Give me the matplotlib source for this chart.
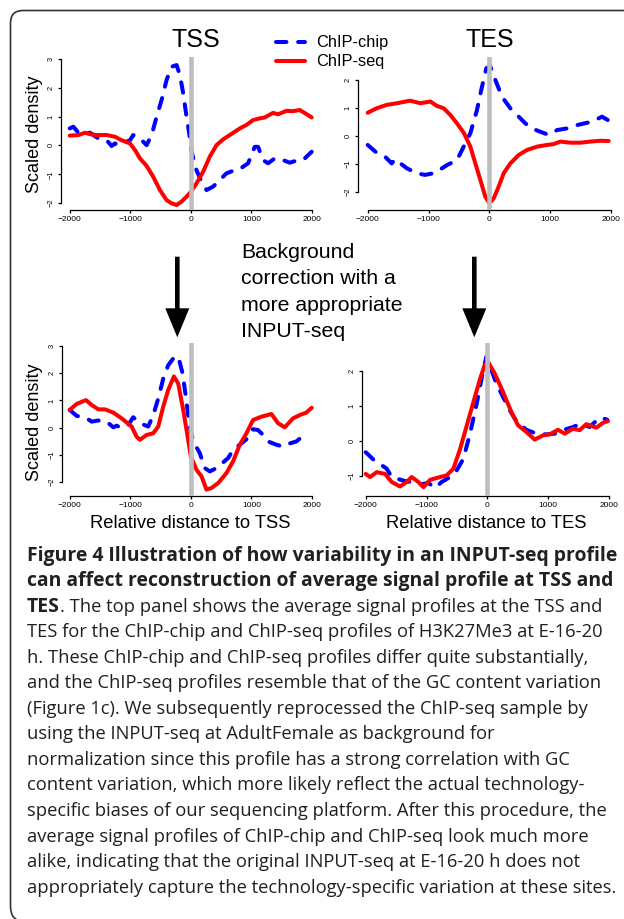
import matplotlib
matplotlib.use('Agg')
import matplotlib.pyplot as plt
from matplotlib.patches import FancyArrow, PathPatch
from matplotlib.path import Path

plt.rcParams['font.family'] = ['Liberation Sans', 'DejaVu Sans']

# ---------------- data ----------------
x_ticks = [-2000, -1000, 0, 1000, 2000]

# Top-left: TSS, before correction
tss_before_seq_x = [-2000, -1857, -1747, -1665, -1555, -1390, -1253, -1143, -1005, -923, -841, -731,
                    -621, -511, -401, -319, -236, -154, -71, 0, 93, 203, 313, 423, 533, 643, 808,
                    918, 1027, 1137, 1220, 1357, 1440, 1577, 1687, 1797, 1907, 1995]
tss_before_seq_y = [0.34, 0.36, 0.44, 0.39, 0.36, 0.36, 0.30, 0.18, 0.07, -0.16, -0.45, -0.71,
                    -1.09, -1.55, -1.90, -2.01, -2.07, -1.95, -1.78, -1.61, -1.32, -0.91, -0.39, 0.01,
                    0.21, 0.36, 0.59, 0.71, 0.88, 0.94, 0.97, 1.13, 1.08, 1.20, 1.19, 1.23, 1.09, 0.97]
tss_before_chip_x = [-2000, -1940, -1857, -1747, -1665, -1527, -1390, -1308, -1253, -1198, -1005, -951,
                     -868, -731, -648, -566, -484, -401, -319, -236, -181, -126, -71, -27, 11, 93,
                     176, 258, 368, 478, 588, 698, 780, 863, 945, 1055, 1110, 1192, 1275, 1385, 1522,
                     1632, 1742, 1852, 1995]
tss_before_chip_y = [0.59, 0.65, 0.44, 0.42, 0.44, 0.24, 0.18, -0.02, 0.07, 0.01, 0.18, 0.36,
                     0.30, 0.01, 0.36, 0.99, 1.57, 2.27, 2.73, 2.79, 2.44, 1.80, 0.99, 0.42, -0.22, -0.86,
                     -1.26, -1.55, -1.43, -1.20, -0.97, -0.88, -0.86, -0.74, -0.62, -0.05, -0.05, -0.51,
                     -0.62, -0.45, -0.51, -0.60, -0.53, -0.51, -0.22]

# Top-right: TES, before correction
tes_before_seq_x = [-2000, -1852, -1688, -1518, -1304, -1134, -970, -860, -751, -641, -532, -422, -312,
                    -230, -148, -66, 0, 71, 153, 236, 345, 482, 619, 784, 948, 1058, 1167, 1332, 1496,
                    1660, 1825, 1962]
tes_before_seq_y = [0.83, 0.99, 1.11, 1.17, 1.26, 1.17, 1.23, 1.07, 0.99, 0.75, 0.45, 0.12, -0.38,
                    -0.98, -1.57, -2.17, -2.40, -2.23, -1.81, -1.33, -0.98, -0.68, -0.50, -0.38, -0.32,
                    -0.29, -0.20, -0.24, -0.24, -0.20, -0.17, -0.18]
tes_before_chip_x = [-2000, -1852, -1715, -1605, -1551, -1359, -1195, -1058, -915, -805, -696, -532,
                     -422, -312, -203, -121, -49, 16, 99, 208, 345, 455, 592, 701, 838, 975, 1112,
                     1277, 1386, 1523, 1688, 1852, 1962]
tes_before_chip_y = [-0.32, -0.60, -0.74, -0.98, -0.83, -1.15, -1.33, -1.39, -1.33, -1.19, -1.04, -0.86,
                     -0.38, 0.10, 0.93, 1.76, 2.42, 2.48, 2.00, 1.40, 0.99, 0.75, 0.45, 0.27, 0.15,
                     0.04, 0.21, 0.27, 0.36, 0.43, 0.51, 0.69, 0.55]

# Bottom-left: TSS, after correction
tss_after_seq_x = [-2000, -1885, -1731, -1637, -1527, -1418, -1280, -1143, -978, -896, -841, -731, -621,
                   -538, -456, -374, -280, -209, -126, -71, 0, 93, 176, 258, 341, 451, 588, 698, 808,
                   918, 1027, 1165, 1330, 1440, 1550, 1687, 1797, 1907, 1995]
tss_after_seq_y = [0.65, 0.87, 1.01, 0.83, 0.67, 0.67, 0.55, 0.34, 0.04, -0.33, -0.45, -0.27, -0.21,
                   0.04, 0.77, 1.38, 1.88, 1.62, 0.65, -0.09, -1.06, -1.55, -1.79, -2.28, -2.22, -2.04,
                   -1.67, -1.24, -0.63, -0.21, 0.28, 0.40, 0.50, 0.16, 0.01, 0.34, 0.46, 0.55, 0.73]
tss_after_chip_x = [-2000, -1885, -1747, -1637, -1527, -1390, -1280, -1225, -1143, -1033, -951, -841,
                    -703, -621, -538, -456, -374, -291, -209, -137, -82, -27, 38, 148, 231, 313, 423,
                    533, 615, 698, 808, 918, 1027, 1110, 1192, 1275, 1412, 1522, 1604, 1742, 1852, 1962]
tss_after_chip_y = [0.65, 0.43, 0.38, 0.22, 0.26, 0.22, 0.01, 0.07, -0.02, 0.10, 0.38, 0.16,
                    0.04, 0.46, 1.07, 1.80, 2.29, 2.54, 2.62, 2.00, 1.13, 0.16, -0.51, -0.94, -1.49,
                    -1.61, -1.49, -1.28, -1.12, -0.82, -0.63, -0.43, -0.06, -0.09, -0.27, -0.51, -0.63,
                    -0.70, -0.60, -0.51, -0.30, -0.35]

# Bottom-right: TES, after correction
tes_after_seq_x = [-2000, -1929, -1819, -1682, -1573, -1436, -1326, -1244, -1134, -1052, -942, -778,
                   -668, -559, -455, -345, -236, -126, -44, 11, 121, 258, 395, 504, 641, 778, 915,
                   1025, 1162, 1271, 1408, 1518, 1627, 1792, 1901, 1984]
tes_after_seq_y = [-0.94, -1.03, -0.89, -0.94, -1.17, -1.30, -1.17, -1.03, -1.17, -1.32, -1.11, -1.03,
                   -0.98, -0.79, -0.27, 0.40, 1.07, 1.74, 2.17, 2.26, 1.93, 1.40, 0.83, 0.45, 0.26,
                   0.04, 0.16, 0.19, 0.32, 0.21, 0.35, 0.31, 0.48, 0.38, 0.52, 0.57]
tes_after_chip_x = [-2000, -1874, -1655, -1573, -1381, -1271, -1107, -970, -860, -751, -614, -504,
                    -395, -285, -175, -88, -16, 66, 148, 258, 368, 477, 641, 805, 970, 1107, 1244,
                    1408, 1545, 1682, 1847, 1973]
tes_after_chip_y = [-0.32, -0.53, -0.79, -1.03, -1.13, -1.17, -1.24, -1.20, -1.34, -1.17, -1.03, -0.84,
                    -0.51, 0.21, 1.07, 1.84, 2.41, 2.03, 1.64, 1.26, 0.88, 0.57, 0.32, 0.21, 0.19,
                    0.21, 0.31, 0.40, 0.50, 0.40, 0.67, 0.61]

legend_labels = ['ChIP-chip', 'ChIP-seq']
titles = ['TSS', 'TES']
xlabels = ['Relative distance to TSS', 'Relative distance to TES']
ylabel = 'Scaled density'
middle_text = ['Background', 'correction with a', 'more appropriate', 'INPUT-seq']

caption_bold = ['Figure 4 Illustration of how variability in an INPUT-seq profile',
                'can affect reconstruction of average signal profile at TSS and',
                'TES']
caption_regular = ['. The top panel shows the average signal profiles at the TSS and',
                   'TES for the ChIP-chip and ChIP-seq profiles of H3K27Me3 at E-16-20',
                   'h. These ChIP-chip and ChIP-seq profiles differ quite substantially,',
                   'and the ChIP-seq profiles resemble that of the GC content variation',
                   '(Figure 1c). We subsequently reprocessed the ChIP-seq sample by',
                   'using the INPUT-seq at AdultFemale as background for',
                   'normalization since this profile has a strong correlation with GC',
                   'content variation, which more likely reflect the actual technology-',
                   'specific biases of our sequencing platform. After this procedure, the',
                   'average signal profiles of ChIP-chip and ChIP-seq look much more',
                   'alike, indicating that the original INPUT-seq at E-16-20 h does not',
                   'appropriately capture the technology-specific variation at these sites.']

# ---------------- figure ----------------
W, H = 624, 919
fig = plt.figure(figsize=(W / 100, H / 100), dpi=100)
fig.patch.set_facecolor('white')

# overlay in pixel coordinates (y downwards)
ov = fig.add_axes([0, 0, 1, 1], zorder=0)
ov.set_xlim(0, W)
ov.set_ylim(H, 0)
ov.axis('off')

BLUE = '#0000ff'
RED = '#ff0000'
GREY = '#bebebe'


def panel(left, right, top, bottom, xlim, ylim, yticks):
    ax = fig.add_axes([left / W, 1 - bottom / H, (right - left) / W, (bottom - top) / H], zorder=2)
    ax.set_facecolor('none')
    ax.set_xlim(*xlim)
    ax.set_ylim(*ylim)
    for s in ('top', 'right'):
        ax.spines[s].set_visible(False)
    ax.spines['left'].set_bounds(yticks[0], yticks[-1])
    ax.spines['bottom'].set_bounds(x_ticks[0], x_ticks[-1])
    for s in ('left', 'bottom'):
        ax.spines[s].set_linewidth(0.9)
    ax.set_xticks(x_ticks)
    ax.set_yticks(yticks)
    ax.tick_params(axis='x', length=2.4, width=0.9, labelsize=6.0, pad=1.8)
    ax.tick_params(axis='y', length=2.4, width=0.9, labelsize=5.4, pad=2.2, labelrotation=90)
    for lab in ax.get_yticklabels():
        lab.set_va('center')
    return ax


def draw(ax, cx, cy, sx, sy):
    ax.plot(cx, cy, color=BLUE, lw=2.9, dashes=(2.6, 2.9), dash_capstyle='round',
            solid_joinstyle='round', zorder=2, label=legend_labels[0])
    ax.plot(sx, sy, color=RED, lw=2.9, solid_capstyle='round', solid_joinstyle='round',
            zorder=3, label=legend_labels[1])
    ax.axvline(0, color=GREY, lw=3.3, zorder=4)


ax_tl = panel(61, 318, 57, 210, (-2144, 2099), (-2.243, 3.07), [-2, -1, 0, 1, 2, 3])
draw(ax_tl, tss_before_chip_x, tss_before_chip_y, tss_before_seq_x, tss_before_seq_y)
ax_tr = panel(358.3, 620, 57, 210, (-2154.5, 2148), (-2.643, 2.82), [-2, -1, 0, 1, 2])
draw(ax_tr, tes_before_chip_x, tes_before_chip_y, tes_before_seq_x, tes_before_seq_y)
ax_bl = panel(61.7, 318, 343, 496, (-2132, 2099), (-2.515, 3.11), [-2, -1, 0, 1, 2, 3])
draw(ax_bl, tss_after_chip_x, tss_after_chip_y, tss_after_seq_x, tss_after_seq_y)
ax_br = panel(362.3, 620, 343, 496, (-2056, 2181), (-1.571, 2.8), [-1, 0, 1, 2])
draw(ax_br, tes_after_chip_x, tes_after_chip_y, tes_after_seq_x, tes_after_seq_y)

# y labels
for ax, yc in ((ax_tl, 134), (ax_bl, 422)):
    ax.set_ylabel(ylabel, fontsize=13)
    ax.yaxis.set_label_coords(43, yc, transform=ov.transData)

# x labels
for ax, xc, lab in ((ax_bl, 190, xlabels[0]), (ax_br, 486.5, xlabels[1])):
    ax.set_xlabel(lab, fontsize=13.2)
    ax.xaxis.label.set_va('baseline')
    ax.xaxis.set_label_coords(xc, 528, transform=ov.transData)

# titles
ov.text(196, 46.7, titles[0], fontsize=18, ha='center', va='baseline')
ov.text(490, 47, titles[1], fontsize=18, ha='center', va='baseline')

# legend (manual)
ov.plot([276, 305], [41.7, 41.7], color=BLUE, lw=2.9, dashes=(2.6, 2.9), dash_capstyle='round')
ov.plot([276, 305], [61, 61], color=RED, lw=2.9, solid_capstyle='round')
ov.text(316, 46.5, legend_labels[0], fontsize=11.8, ha='left', va='baseline')
ov.text(316, 66.3, legend_labels[1], fontsize=11.8, ha='left', va='baseline')

# middle text and arrows
for i, line in enumerate(middle_text):
    ov.text(241, 258 + 26.4 * i, line, fontsize=15.3, ha='left', va='baseline')
for xa in (177.3, 474.3):
    ov.add_patch(FancyArrow(xa, 256.7, 0, 80.6, width=4.6, head_width=24, head_length=29,
                            length_includes_head=True, color='black', lw=0))

# frame
verts = [(640, 10.5), (23, 10.5), (10.5, 10.5), (10.5, 23), (10.5, 906), (10.5, 921), (23, 921)]
codes = [Path.MOVETO, Path.LINETO, Path.CURVE3, Path.CURVE3, Path.LINETO, Path.CURVE3, Path.CURVE3]
ov.add_patch(PathPatch(Path(verts, codes), fill=False, ec='#333333', lw=1.2, clip_on=False))

# caption
r = fig.canvas.get_renderer()
CAP_FONT = ['Open Sans', 'DejaVu Sans']
t = ov.text(0, 0, caption_regular[-1], fontsize=10, family=CAP_FONT)
reg_size = 10 * 591 / t.get_window_extent(renderer=r).width
t.remove()
t = ov.text(0, 0, caption_bold[0], fontsize=10, family=CAP_FONT, weight='bold')
bold_size = 10 * 593 / t.get_window_extent(renderer=r).width
t.remove()

x0 = 27
base0 = 560.5
step = 25.55
CAP_COL = '#231f20'
ov.text(x0, base0, caption_bold[0], fontsize=bold_size, family=CAP_FONT, weight='bold',
        va='baseline', color=CAP_COL)
ov.text(x0, base0 + step, caption_bold[1], fontsize=bold_size, family=CAP_FONT, weight='bold',
        va='baseline', color=CAP_COL)
tb = ov.text(x0, base0 + 2 * step, caption_bold[2], fontsize=bold_size, family=CAP_FONT,
             weight='bold', va='baseline', color=CAP_COL)
wb = tb.get_window_extent(renderer=r).width
ov.text(x0 + wb, base0 + 2 * step, caption_regular[0], fontsize=reg_size, family=CAP_FONT,
        va='baseline', color=CAP_COL)
for i, line in enumerate(caption_regular[1:]):
    ov.text(x0, base0 + (3 + i) * step, line, fontsize=reg_size, family=CAP_FONT,
            va='baseline', color=CAP_COL)

fig.savefig('out.png', dpi=100)
